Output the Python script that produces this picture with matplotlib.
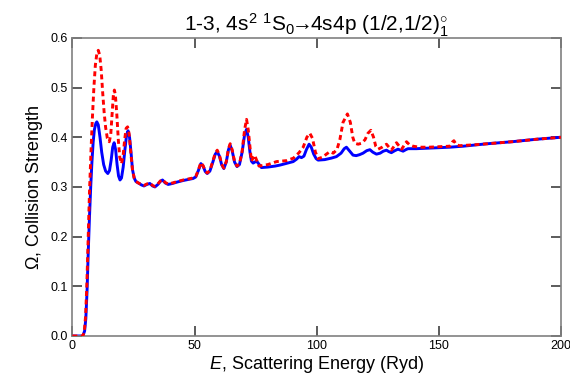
import matplotlib
matplotlib.use('Agg')
import matplotlib.pyplot as plt

plt.rcParams['font.family'] = ['Liberation Sans', 'DejaVu Sans']
plt.rcParams['mathtext.fontset'] = 'custom'
plt.rcParams['mathtext.rm'] = 'Liberation Sans'
plt.rcParams['mathtext.it'] = 'Liberation Sans:italic'
plt.rcParams['mathtext.bf'] = 'Liberation Sans:bold'

# ---- data (E in Ryd, Omega)
blue_E = [0, 4.3, 5.0, 5.5, 6.0, 6.5, 7.0, 7.5, 8.0, 8.5, 9.0, 9.6, 10.0, 10.6, 11.3,
          12.0, 12.8, 13.6, 14.5, 15.2, 15.9, 16.5, 17.1, 17.7, 18.3, 18.9, 19.5, 20.1,
          20.8, 21.5, 22.2, 22.8, 23.4, 24.0, 24.6, 25.3, 26.0, 27.0, 28.3, 29.3, 30.5,
          31.7, 32.8, 33.8, 35.0, 36.0, 36.9, 38.0, 39.2, 41, 43, 45.4, 47.5, 49.4, 50.5,
          51.5, 52.6, 53.5, 54.4, 55.2, 56.3, 57.5, 58.5, 59.3, 60.2, 61.1, 62.0, 63.0,
          63.9, 64.6, 65.4, 66.4, 67.4, 68.4, 69.5, 70.5, 71.3, 72.0, 72.7, 73.3, 74.0,
          75.0, 75.6, 76.5, 77.4, 80, 83, 85, 88, 90.4, 91.8, 92.8, 93.8, 94.8, 95.8,
          96.9, 97.8, 98.8, 99.8, 100.6, 103.3, 106, 108.1, 110, 111.3, 112.2, 113.2,
          114.9, 116.2, 117.6, 119, 120.5, 121.8, 123, 124.5, 126, 127.3, 128.6, 129.6,
          130.6, 132, 133.3, 134.4, 135.4, 136.5, 137.4, 140.8, 145, 150, 154.5, 160,
          170, 180, 190, 200]
blue_O = [0, 0, 0.01, 0.035, 0.09, 0.17, 0.24, 0.30, 0.35, 0.39, 0.415, 0.428, 0.431, 0.425, 0.40,
          0.37, 0.345, 0.332, 0.327, 0.333, 0.355, 0.38, 0.389, 0.375, 0.345, 0.322, 0.314, 0.318,
          0.34, 0.375, 0.405, 0.413, 0.40, 0.37, 0.335, 0.318, 0.311, 0.308, 0.304, 0.302, 0.305,
          0.307, 0.302, 0.300, 0.305, 0.311, 0.314, 0.308, 0.305, 0.307, 0.310, 0.313, 0.315, 0.317, 0.320,
          0.332, 0.347, 0.342, 0.331, 0.327, 0.332, 0.350, 0.366, 0.371, 0.362, 0.345, 0.337, 0.350,
          0.375, 0.384, 0.373, 0.350, 0.341, 0.345, 0.370, 0.405, 0.416, 0.400, 0.370, 0.352, 0.348,
          0.351, 0.351, 0.345, 0.339, 0.340, 0.342, 0.344, 0.348, 0.351, 0.356, 0.361, 0.359, 0.362, 0.375,
          0.386, 0.380, 0.366, 0.357, 0.354, 0.355, 0.358, 0.361, 0.368, 0.377, 0.380, 0.374,
          0.364, 0.363, 0.365, 0.368, 0.373, 0.375, 0.370, 0.366, 0.368, 0.372, 0.374, 0.371,
          0.369, 0.373, 0.376, 0.374, 0.372, 0.375, 0.377, 0.377, 0.378, 0.379, 0.380, 0.382,
          0.387, 0.391, 0.396, 0.400]

red_E = [0, 4.3, 4.9, 5.4, 5.9, 6.4, 7.0, 7.6, 8.2, 8.8, 9.4, 10.0, 10.6, 11.2, 11.8,
         12.4, 13.0, 13.6, 14.3, 15.1, 15.7, 16.3, 16.8, 17.2, 17.6, 18.2, 18.8, 19.4, 20.1,
         20.7, 21.4, 22.0, 22.6, 23.2, 23.9, 24.6, 25.3, 26.0, 27.0, 28.3, 29.3, 30.5,
         31.7, 32.8, 33.8, 35.0, 36.0, 36.9, 38.0, 39.2, 41, 43, 45.4, 47.5, 49.4, 50.5,
         51.5, 52.6, 53.5, 54.4, 55.2, 56.3, 57.5, 58.5, 59.3, 60.2, 61.1, 62.0, 63.0,
         63.9, 64.6, 65.4, 66.4, 67.4, 68.4, 69.5, 70.5, 71.3, 72.0, 72.7, 73.3, 74.6,
         76.4, 80, 83.6, 87.7, 90.5, 92.8, 94.5, 96.0, 97.2, 98.3, 99.5, 100.6, 102.5,
         104, 105.4, 106.8, 108.3, 109.5, 110.8, 112.6, 113.8, 114.8, 115.6, 117, 118.4,
         119.8, 121, 122.2, 123.3, 124.2, 125.2, 126.8, 128.6, 130.6, 132.7, 134.8, 136.8,
         138, 139.5, 142, 146, 150, 154.5, 155.5, 156.2, 157.2, 158.5, 165, 170, 180, 190, 200]
red_O = [0, 0, 0.01, 0.04, 0.10, 0.19, 0.29, 0.37, 0.44, 0.50, 0.545, 0.568, 0.575, 0.565, 0.535,
         0.49, 0.45, 0.42, 0.398, 0.391, 0.405, 0.45, 0.487, 0.495, 0.485, 0.445, 0.395, 0.36, 0.347,
         0.36, 0.395, 0.418, 0.421, 0.408, 0.37, 0.335, 0.318, 0.311, 0.308, 0.305, 0.303, 0.306,
         0.308, 0.303, 0.301, 0.306, 0.312, 0.315, 0.309, 0.306, 0.308, 0.311, 0.314, 0.316, 0.318, 0.321,
         0.333, 0.349, 0.343, 0.332, 0.328, 0.333, 0.352, 0.368, 0.374, 0.364, 0.346, 0.338, 0.351,
         0.377, 0.387, 0.375, 0.351, 0.342, 0.346, 0.372, 0.415, 0.436, 0.415, 0.380, 0.352, 0.364,
         0.342, 0.345, 0.351, 0.353, 0.358, 0.369, 0.380, 0.400, 0.408, 0.398, 0.370, 0.357, 0.360,
         0.366, 0.371, 0.368, 0.375, 0.395, 0.430, 0.447, 0.430, 0.400, 0.388, 0.386, 0.388,
         0.395, 0.408, 0.414, 0.400, 0.382, 0.376, 0.380, 0.386, 0.374, 0.389, 0.376, 0.391,
         0.385, 0.382, 0.380, 0.380, 0.381, 0.382, 0.390, 0.393, 0.385, 0.383, 0.385, 0.387, 0.391, 0.396, 0.400]

x_ticks = [0, 50, 100, 150, 200]
y_ticks = [0.0, 0.1, 0.2, 0.3, 0.4, 0.5, 0.6]

fig = plt.figure(figsize=(5.70, 3.79), dpi=100)
ax = fig.add_axes([0.127, 0.1135, 0.857, 0.7865])

ax.plot(blue_E, blue_O, color='#0000ff', lw=2.1, solid_joinstyle='round', zorder=2)
ax.plot(red_E, red_O, color='#ff0000', lw=2.1, dashes=(1.7, 1.2), zorder=3)

ax.set_xlim(0, 200)
ax.set_ylim(0, 0.6)
ax.set_xticks(x_ticks)
ax.set_yticks(y_ticks)
ax.set_xticklabels([str(t) for t in x_ticks])
ax.set_yticklabels(['%.1f' % t for t in y_ticks])

for s in ax.spines.values():
    s.set_color('#808080')
    s.set_linewidth(1.2)
ax.tick_params(direction='in', length=7, width=1.2, color='#404040',
               top=True, right=True, labelsize=9, pad=3)

ax.set_xlabel(r'$\it{E}$, Scattering Energy (Ryd)', fontsize=13, labelpad=1)
ax.set_ylabel(r'$\Omega$, Collision Strength', fontsize=13, labelpad=4)
ax.set_title(r'1-3, 4s$^2$ $^1$S$_0$$\!\!\rightarrow\!\!$4s4p (1/2,1/2)$^{\circ}_{1}$',
             fontsize=15, pad=5)

fig.savefig('out.png', dpi=100)
